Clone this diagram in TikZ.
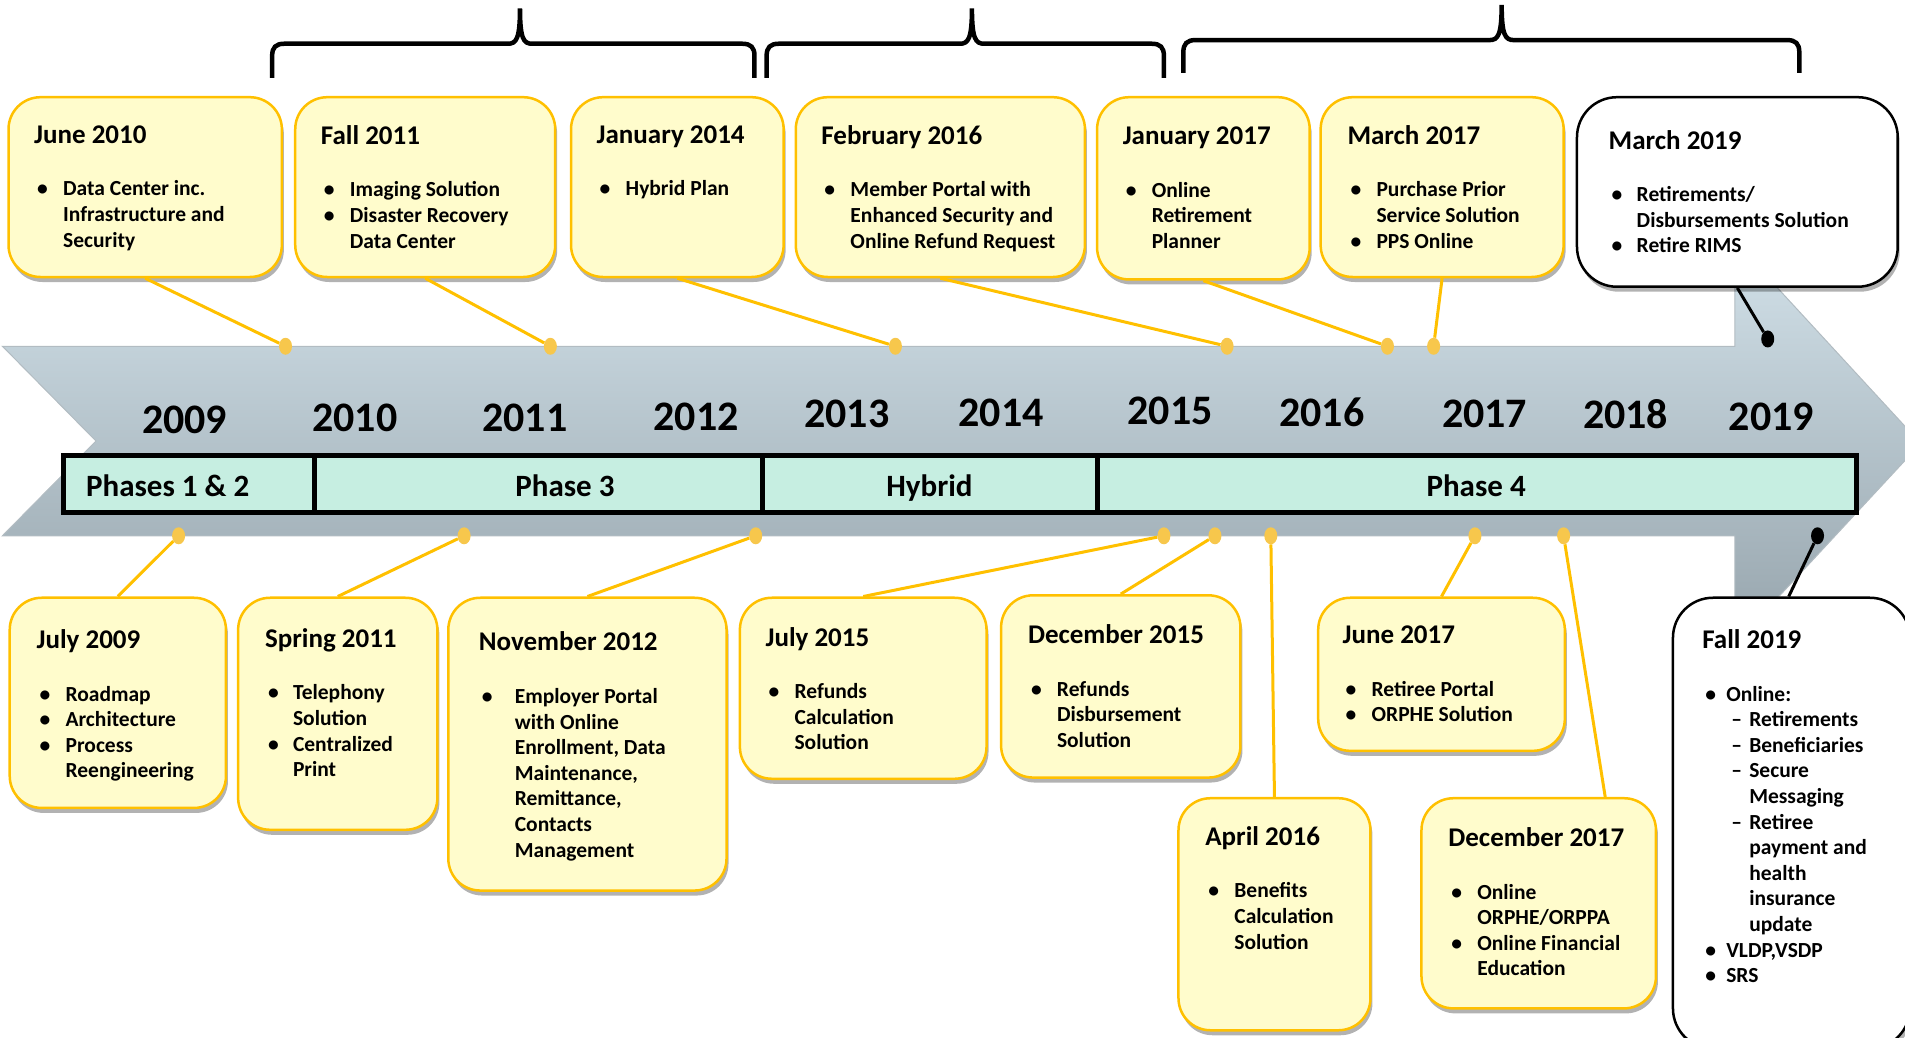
\documentclass[tikz,border=0pt]{standalone}
\usepackage{fontspec}
\setmainfont{Carlito}
\usetikzlibrary{shapes.geometric,shadows,fit}

\definecolor{gold}{RGB}{255,192,0}
\definecolor{cream}{RGB}{255,252,204}
\definecolor{dotgold}{RGB}{247,199,76}
\definecolor{mint}{RGB}{198,238,225}
\definecolor{arrtop}{RGB}{210,225,233}
\definecolor{arrbot}{RGB}{150,164,172}
\definecolor{arredge}{RGB}{178,188,194}

\newcommand{\evfont}{\fontsize{21.5}{25.6}\selectfont\bfseries}
\newcommand{\evbig}{\fontsize{27}{31}\selectfont}
\newcommand{\evttl}[1]{\multicolumn{2}{@{}l@{}}{\evbig #1}\\[27pt]}
\newcommand{\evbul}{\hspace*{3pt}\textbullet}

\begin{document}
\begin{tikzpicture}[x=1.2149pt,y=-1.2149pt,
    evbox/.style={draw=gold,fill=cream,line width=2.5pt,rounded corners=32pt,inner sep=0pt,
      drop shadow={shadow xshift=2pt,shadow yshift=-5pt,opacity=.3,fill=black}},
    wbox/.style={evbox,draw=black,fill=white,rounded corners=40pt},
    evtxt/.style={anchor=north west,inner sep=0pt,font=\evfont},
    conn/.style={draw=gold,line width=3pt},
    bconn/.style={draw=black,line width=3pt},
    evdot/.style={ellipse,fill=dotgold,inner sep=0pt,minimum width=13pt,minimum height=17pt},
    bdot/.style={evdot,fill=black},
    yearlbl/.style={anchor=base,font=\fontsize{42}{48}\selectfont\bfseries},
    phasebox/.style={draw=black,fill=mint,line width=5pt,inner sep=0pt},
    phaselbl/.style={anchor=base,font=\fontsize{31}{36}\selectfont\bfseries},
    curly/.style={line width=4.5pt}]
      \useasboundingbox (0,0) rectangle (1568,854);
      \clip (0,0) rectangle (1568,854);

      \shadedraw[top color=arrtop,bottom color=arrbot,draw=arredge,line width=1pt]
        (2,285) -- (1428,285) -- (1428,199) -- (1581,365) -- (1428,530)
        -- (1428,441) -- (2,441) -- (79,363) -- cycle;

      \foreach \yr/\x/\y in {2009/152/357,2010/292/355,2011/432/355,2012/573/354,
          2013/697/352,2014/824/351,2015/963/349,2016/1088/351,2017/1222/352,
          2018/1338/353,2019/1458/354}
        \draw (\x,\y) node[yearlbl] (y\yr) {\yr};

      \node[phasebox,fit={(52,375)(259,422)}] (ph12) {};
      \node[phasebox,fit={(259,375)(628,422)}] (ph3) {};
      \node[phasebox,fit={(628,375)(903,422)}] (phhyb) {};
      \node[phasebox,fit={(903,375)(1528,422)}] (ph4) {};
      \draw (138,409) node[phaselbl] (ph12t) {Phases 1 \& 2};
      \draw (465,409) node[phaselbl] (ph3t) {Phase 3};
      \draw (765,409) node[phaselbl] (phhybt) {Hybrid};
      \draw (1215,409) node[phaselbl] (ph4t) {Phase 4};

      \foreach \xa/\xm/\xb/\yb/\yt/\ye in {224/428/621/36/7/64,631/800/958/36/7/64,974/1236/1481/33/4/60}
        \draw[curly] (\xa,\ye) -- (\xa,\yb+10) .. controls (\xa,\yb+3) and (\xa+3,\yb) .. (\xa+10,\yb)
          -- (\xm-10,\yb) .. controls (\xm-3,\yb) and (\xm,\yb-4) .. (\xm,\yt)
          .. controls (\xm,\yb-4) and (\xm+3,\yb) .. (\xm+10,\yb)
          -- (\xb-10,\yb) .. controls (\xb-3,\yb) and (\xb,\yb+3) .. (\xb,\yb+10) -- (\xb,\ye);

      \draw (235,285) node[evdot] (jun10d) {};
      \draw (453,285) node[evdot] (fall11d) {};
      \draw (737,285) node[evdot] (jan14d) {};
      \draw (1010,285) node[evdot] (feb16d) {};
      \draw (1142,285) node[evdot] (jan17d) {};
      \draw (1180,285) node[evdot] (mar17d) {};
      \draw (1455,279) node[bdot] (mar19d) {};
      \draw (147,441) node[evdot] (jul09d) {};
      \draw (382,441) node[evdot] (spr11d) {};
      \draw (622,441) node[evdot] (nov12d) {};
      \draw (958,441) node[evdot] (jul15d) {};
      \draw (1000,441) node[evdot] (dec15d) {};
      \draw (1046,441) node[evdot] (apr16d) {};
      \draw (1214,441) node[evdot] (jun17d) {};
      \draw (1287,441) node[evdot] (dec17d) {};
      \draw (1496,441) node[bdot] (fall19d) {};

      \node[evbox,fit={(7,80)(232,228)}] (jun10) {};
      \node[evtxt] (jun10t) at ([shift={(22,24)}]jun10.north west) {\begin{tabular}{@{}p{29pt}@{}l@{}}
        \evttl{June 2010}
        \evbul & Data Center inc.\\
        & Infrastructure and\\
        & Security
      \end{tabular}};

      \node[evbox,fit={(243,80)(457,228)}] (fall11) {};
      \node[evtxt] (fall11t) at ([shift={(22,24)}]fall11.north west) {\begin{tabular}{@{}p{29pt}@{}l@{}}
        \evttl{Fall 2011}
        \evbul & Imaging Solution\\
        \evbul & Disaster Recovery\\
        & Data Center
      \end{tabular}};

      \node[evbox,fit={(470,80)(645,228)}] (jan14) {};
      \node[evtxt] (jan14t) at ([shift={(22,24)}]jan14.north west) {\begin{tabular}{@{}p{29pt}@{}l@{}}
        \evttl{January 2014}
        \evbul & Hybrid Plan
      \end{tabular}};

      \node[evbox,fit={(655,80)(893,228)}] (feb16) {};
      \node[evtxt] (feb16t) at ([shift={(22,24)}]feb16.north west) {\begin{tabular}{@{}p{29pt}@{}l@{}}
        \evttl{February 2016}
        \evbul & Member Portal with\\
        & Enhanced Security and\\
        & Online Refund Request
      \end{tabular}};

      \node[evbox,fit={(903,80)(1078,230)}] (jan17) {};
      \node[evtxt] (jan17t) at ([shift={(22,25)}]jan17.north west) {\begin{tabular}{@{}p{29pt}@{}l@{}}
        \evttl{January 2017}
        \evbul & Online\\
        & Retirement\\
        & Planner
      \end{tabular}};

      \node[evbox,fit={(1087,80)(1287,228)}] (mar17) {};
      \node[evtxt] (mar17t) at ([shift={(23,24)}]mar17.north west) {\begin{tabular}{@{}p{29pt}@{}l@{}}
        \evttl{March 2017}
        \evbul & Purchase Prior\\
        & Service Solution\\
        \evbul & PPS Online
      \end{tabular}};

      \node[wbox,fit={(1298,80)(1562,236)}] (mar19) {};
      \node[evtxt] (mar19t) at ([shift={(27,28)}]mar19.north west) {\begin{tabular}{@{}p{28pt}@{}l@{}}
        \evttl{March 2019}
        \evbul & Retirements/\\
        & Disbursements Solution\\
        \evbul & Retire RIMS
      \end{tabular}};

      \node[evbox,fit={(8,492)(186,665)}] (jul09) {};
      \node[evtxt] (jul09t) at ([shift={(23,27)}]jul09.north west) {\begin{tabular}{@{}p{29pt}@{}l@{}}
        \evttl{July 2009}
        \evbul & Roadmap\\
        \evbul & Architecture\\
        \evbul & Process\\
        & Reengineering
      \end{tabular}};

      \node[evbox,fit={(196,492)(360,683)}] (spr11) {};
      \node[evtxt] (spr11t) at ([shift={(23,26)}]spr11.north west) {\begin{tabular}{@{}p{28pt}@{}l@{}}
        \evttl{Spring 2011}
        \evbul & Telephony\\
        & Solution\\
        \evbul & Centralized\\
        & Print
      \end{tabular}};

      \node[evbox,fit={(369,492)(598,733)}] (nov12) {};
      \node[evtxt] (nov12t) at ([shift={(26,29)}]nov12.north west) {\begin{tabular}{@{}p{36pt}@{}l@{}}
        \evttl{November 2012}
        \evbul & Employer Portal\\
        & with Online\\
        & Enrollment, Data\\
        & Maintenance,\\
        & Remittance,\\
        & Contacts\\
        & Management
      \end{tabular}};

      \node[evbox,fit={(609,492)(812,641)}] (jul15) {};
      \node[evtxt] (jul15t) at ([shift={(22,25)}]jul15.north west) {\begin{tabular}{@{}p{29pt}@{}l@{}}
        \evttl{July 2015}
        \evbul & Refunds\\
        & Calculation\\
        & Solution
      \end{tabular}};

      \node[evbox,fit={(824,490)(1021,640)}] (dec15) {};
      \node[evtxt] (dec15t) at ([shift={(23,25)}]dec15.north west) {\begin{tabular}{@{}p{29pt}@{}l@{}}
        \evttl{December 2015}
        \evbul & Refunds\\
        & Disbursement\\
        & Solution
      \end{tabular}};

      \node[evbox,fit={(970,657)(1128,848)}] (apr16) {};
      \node[evtxt] (apr16t) at ([shift={(23,24)}]apr16.north west) {\begin{tabular}{@{}p{29pt}@{}l@{}}
        \evttl{April 2016}
        \evbul & Benefits\\
        & Calculation\\
        & Solution
      \end{tabular}};

      \node[evbox,fit={(1085,492)(1288,618)}] (jun17) {};
      \node[evtxt] (jun17t) at ([shift={(21,24)}]jun17.north west) {\begin{tabular}{@{}p{29pt}@{}l@{}}
        \evttl{June 2017}
        \evbul & Retiree Portal\\
        \evbul & ORPHE Solution
      \end{tabular}};

      \node[evbox,fit={(1170,657)(1363,830)}] (dec17) {};
      \node[evtxt] (dec17t) at ([shift={(23,25)}]dec17.north west) {\begin{tabular}{@{}p{29pt}@{}l@{}}
        \evttl{December 2017}
        \evbul & Online\\
        & ORPHE/ORPPA\\
        \evbul & Online Financial\\
        & Education
      \end{tabular}};

      \node[wbox,fit={(1377,492)(1572,863)}] (fall19) {};
      \node[evtxt] (fall19t) at ([shift={(25,27)}]fall19.north west) {\begin{tabular}{@{}p{24pt}@{}p{23pt}@{}l@{}}
        \multicolumn{3}{@{}l@{}}{\evbig Fall 2019}\\[27pt]
        \evbul & \multicolumn{2}{@{}l@{}}{Online:}\\
        & \hspace*{5pt}-- & Retirements\\
        & \hspace*{5pt}-- & Beneficiaries\\
        & \hspace*{5pt}-- & Secure\\
        & & Messaging\\
        & \hspace*{5pt}-- & Retiree\\
        & & payment and\\
        & & health\\
        & & insurance\\
        & & update\\
        \evbul & \multicolumn{2}{@{}l@{}}{VLDP,VSDP}\\
        \evbul & \multicolumn{2}{@{}l@{}}{SRS}
      \end{tabular}};

      \draw (jun10.south) edge[conn] (jun10d);
      \draw (fall11.south) edge[conn] (fall11d);
      \draw (jan14.south) edge[conn] (jan14d);
      \draw (feb16.south) edge[conn] (feb16d);
      \draw (jan17.south) edge[conn] (jan17d);
      \draw (mar17.south) edge[conn] (mar17d);
      \draw (mar19.south) edge[bconn] (mar19d);
      \draw (jul09.north) edge[conn] (jul09d);
      \draw (spr11.north) edge[conn] (spr11d);
      \draw (nov12.north) edge[conn] (nov12d);
      \draw (jul15.north) edge[conn] (jul15d);
      \draw (dec15.north) edge[conn] (dec15d);
      \draw (apr16.north) edge[conn] (apr16d);
      \draw (jun17.north) edge[conn] (jun17d);
      \draw ([xshift=185pt]dec17.north west) edge[conn] (dec17d);
      \draw ([xshift=117pt]fall19.north west) edge[bconn] (fall19d);
    \end{tikzpicture}
\end{document}
